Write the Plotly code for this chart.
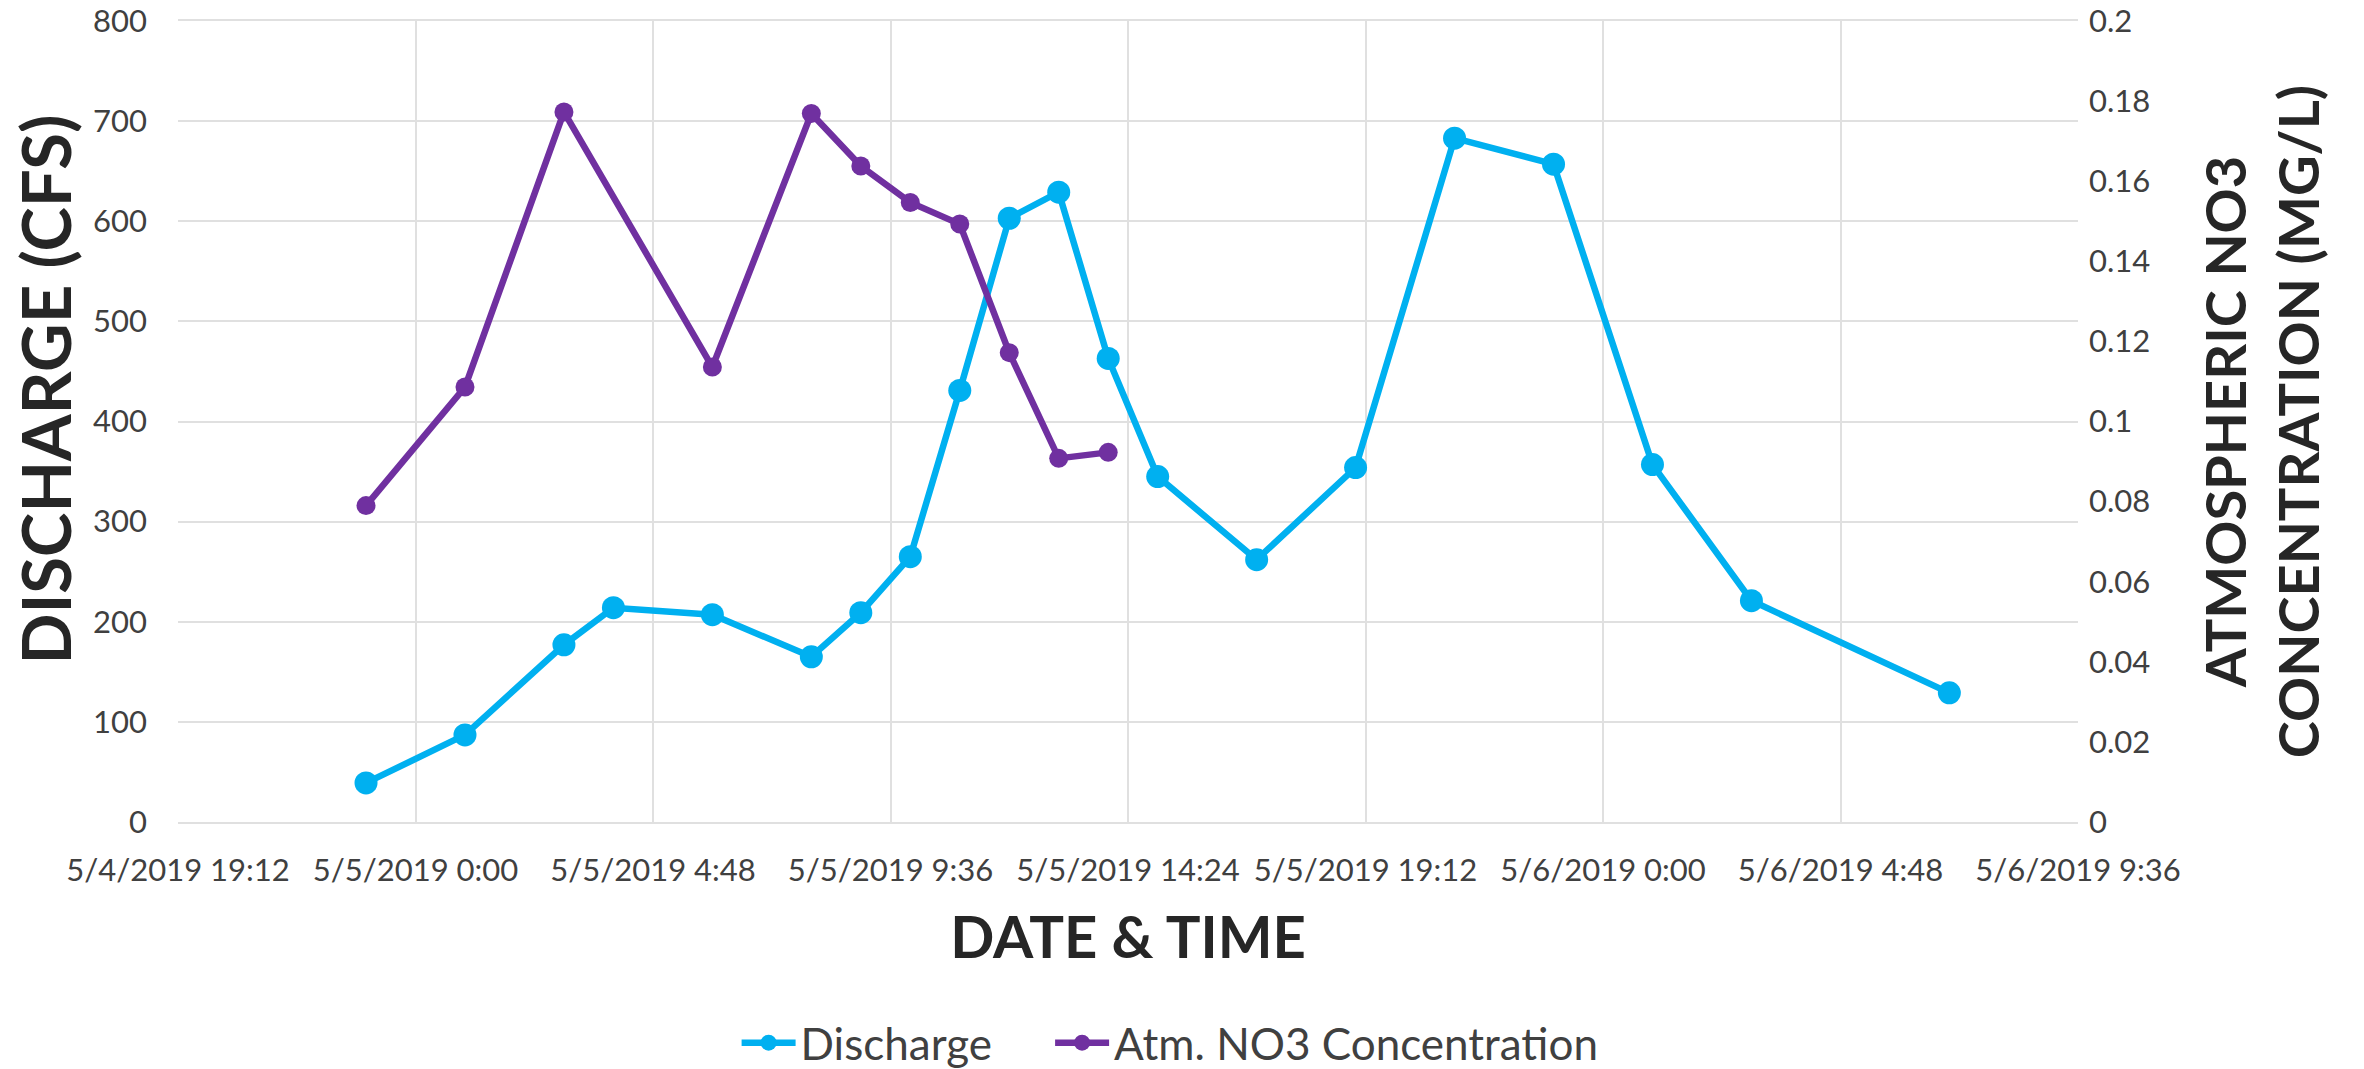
import plotly.graph_objects as go
from datetime import datetime, timedelta

# Sampling times and measured values
discharge_times = [
    "2019-05-04 23:00", "2019-05-05 01:00", "2019-05-05 03:00", "2019-05-05 04:00",
    "2019-05-05 06:00", "2019-05-05 08:00", "2019-05-05 09:00", "2019-05-05 10:00",
    "2019-05-05 11:00", "2019-05-05 12:00", "2019-05-05 13:00", "2019-05-05 14:00",
    "2019-05-05 15:00", "2019-05-05 17:00", "2019-05-05 19:00", "2019-05-05 21:00",
    "2019-05-05 23:00", "2019-05-06 01:00", "2019-05-06 03:00", "2019-05-06 07:00",
]
discharge_cfs = [39, 87, 177, 214, 207, 165, 209, 265, 431, 603,
                 629, 463, 345, 262, 354, 683, 657, 357, 221, 129]

no3_times = [
    "2019-05-04 23:00", "2019-05-05 01:00", "2019-05-05 03:00", "2019-05-05 06:00",
    "2019-05-05 08:00", "2019-05-05 09:00", "2019-05-05 10:00", "2019-05-05 11:00",
    "2019-05-05 12:00", "2019-05-05 13:00", "2019-05-05 14:00",
]
no3_mgl = [0.079, 0.1086, 0.1773, 0.1136, 0.1769, 0.1638, 0.1547, 0.1493,
           0.1172, 0.0908, 0.0923]

# Axis ticks
x_tick_labels = [
    "5/4/2019 19:12", "5/5/2019 0:00", "5/5/2019 4:48", "5/5/2019 9:36",
    "5/5/2019 14:24", "5/5/2019 19:12", "5/6/2019 0:00", "5/6/2019 4:48",
    "5/6/2019 9:36",
]
x_start = datetime(2019, 5, 4, 19, 12)
x_step = timedelta(hours=4.8)
x_tick_vals = [x_start + i * x_step for i in range(len(x_tick_labels))]

discharge_ticks = [0, 100, 200, 300, 400, 500, 600, 700, 800]
no3_ticks = [0, 0.02, 0.04, 0.06, 0.08, 0.1, 0.12, 0.14, 0.16, 0.18, 0.2]
no3_tick_labels = ["0", "0.02", "0.04", "0.06", "0.08", "0.1",
                   "0.12", "0.14", "0.16", "0.18", "0.2"]

BLUE = "#00B0F0"
PURPLE = "#7030A0"
GRID = "#E0E0E0"
TICK_FONT = dict(family="Lato, sans-serif", size=31, color="#404040")
LEGEND_FONT = dict(family="Lato, sans-serif", size=44, color="#404040")
TITLE_COLOR = "#262626"

fig = go.Figure()

fig.add_trace(go.Scatter(
    x=discharge_times, y=discharge_cfs, name="Discharge",
    mode="lines+markers",
    line=dict(color=BLUE, width=6.5),
    marker=dict(color=BLUE, size=23),
    yaxis="y", legend="legend",
))

fig.add_trace(go.Scatter(
    x=no3_times, y=no3_mgl, name="Atm. NO3 Concentration",
    mode="lines+markers",
    line=dict(color=PURPLE, width=6.5),
    marker=dict(color=PURPLE, size=19),
    yaxis="y2", legend="legend2",
))

# Left axis title, set slightly above the vertical centre of the plot
fig.add_annotation(
    text="<b>DISCHARGE (CFS)</b>", textangle=-90,
    xref="paper", yref="paper", x=-0.07, y=0.54,
    xanchor="center", yanchor="middle", showarrow=False,
    font=dict(family="Lato, sans-serif", size=67, color=TITLE_COLOR),
)

fig.update_layout(
    width=2364, height=1069,
    margin=dict(l=178, r=286, t=21, b=247, autoexpand=False),
    paper_bgcolor="white", plot_bgcolor="white",
    showlegend=True,
    legend=dict(
        orientation="h", x=0.294, xanchor="left", y=-0.276, yanchor="middle",
        font=LEGEND_FONT, itemwidth=54,
    ),
    legend2=dict(
        orientation="h", x=0.459, xanchor="left", y=-0.276, yanchor="middle",
        font=LEGEND_FONT, itemwidth=54,
    ),
    xaxis=dict(
        type="date", automargin=False,
        range=[x_tick_vals[0], x_tick_vals[-1]],
        tickmode="array", tickvals=x_tick_vals, ticktext=x_tick_labels,
        tickangle=0, ticklabeloverflow="allow",
        showgrid=True, gridcolor=GRID, gridwidth=2,
        showline=True, linecolor=GRID, linewidth=2, mirror=True,
        ticks="", ticklabelstandoff=20,
        tickfont=TICK_FONT,
        title=dict(text="<b>DATE &amp; TIME</b>",
                   font=dict(family="Lato, sans-serif", size=58, color=TITLE_COLOR),
                   standoff=30),
        zeroline=False,
    ),
    yaxis=dict(
        automargin=False,
        range=[0, 800.01],
        tickmode="array", tickvals=discharge_ticks,
        ticklabeloverflow="allow",
        showgrid=True, gridcolor=GRID, gridwidth=2,
        zeroline=False, ticks="",
        tickfont=TICK_FONT, ticklabelstandoff=30,
    ),
    yaxis2=dict(
        automargin=False,
        range=[0, 0.20001],
        tickmode="array", tickvals=no3_ticks, ticktext=no3_tick_labels,
        ticklabeloverflow="allow",
        overlaying="y", side="right",
        showgrid=False, zeroline=False, ticks="",
        tickfont=TICK_FONT, ticklabelstandoff=10,
        title=dict(text="<b>ATMOSPHERIC NO3<br>CONCENTRATION (MG/L)</b>",
                   font=dict(family="Lato, sans-serif", size=56, color=TITLE_COLOR),
                   standoff=57),
    ),
)

fig.write_html("out.html")
